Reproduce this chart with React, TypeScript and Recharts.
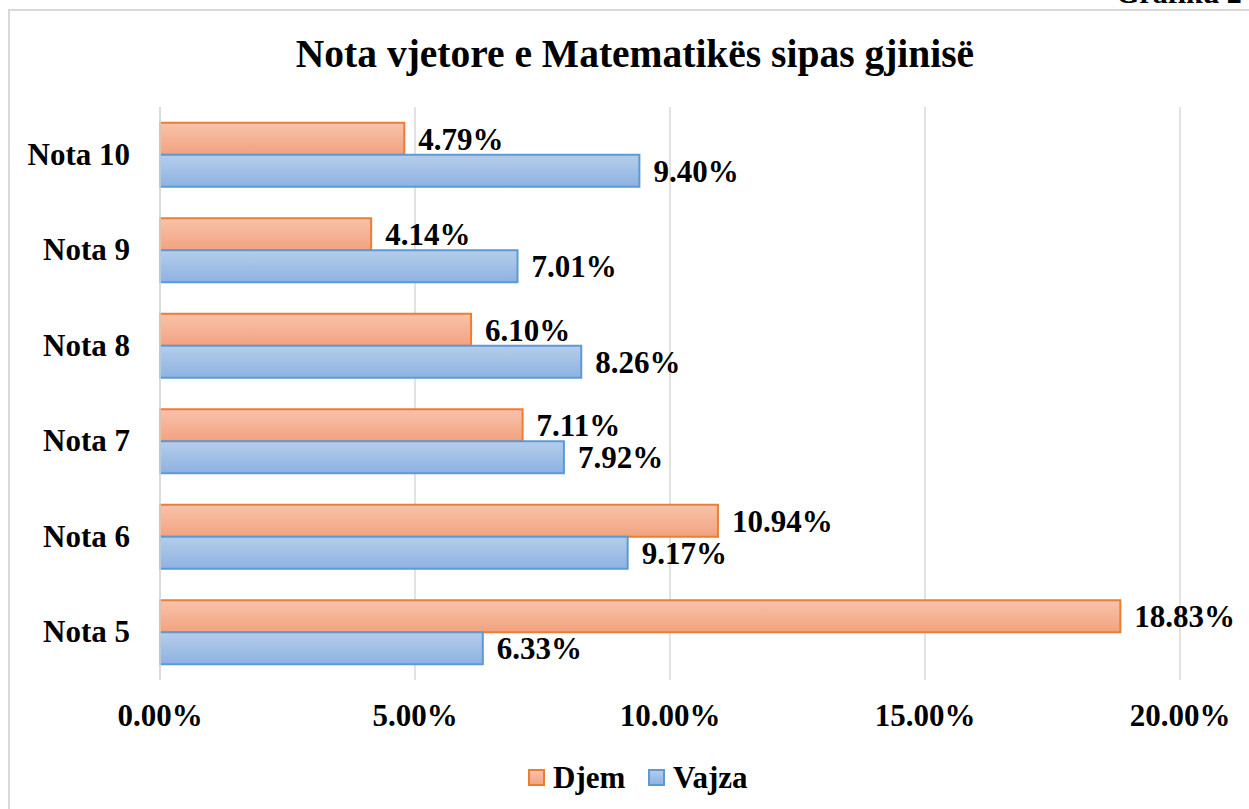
import { BarChart, Bar, XAxis, YAxis, CartesianGrid, LabelList } from "recharts";

const categories = ["Nota 10", "Nota 9", "Nota 8", "Nota 7", "Nota 6", "Nota 5"];
const djem = [4.79, 4.14, 6.1, 7.11, 10.94, 18.83];
const vajza = [9.4, 7.01, 8.26, 7.92, 9.17, 6.33];
const xTicks = [0, 5, 10, 15, 20];

const seriesNames = ["Djem", "Vajza"];
const title = "Nota vjetore e Matematikës sipas gjinisë";

const font = "'Liberation Serif', 'Times New Roman', serif";

const rows = categories.map((c, i) => ({ name: c, djem: djem[i], vajza: vajza[i] }));

const pct = (v: number) => `${Number(v).toFixed(2)}%`;

function YTick(props: any) {
  const { x, y, payload } = props;
  return (
    <text x={x - 22} y={y} dy={10} textAnchor="end" fontFamily={font} fontWeight="bold" fontSize={31} fill="#000">
      {payload.value}
    </text>
  );
}

function XTick(props: any) {
  const { x, y, payload } = props;
  return (
    <text x={x} y={y} dy={38} textAnchor="middle" fontFamily={font} fontWeight="bold" fontSize={31} fill="#000">
      {pct(payload.value)}
    </text>
  );
}

export default function App() {
  return (
    <div style={{ position: "absolute", left: 0, top: 0, width: 1249, height: 809, overflow: "hidden", background: "#fff" }}>
      <div
        style={{
          position: "absolute",
          left: 8,
          top: 9,
          width: 1300,
          height: 900,
          borderLeft: "2px solid #d9d9d9",
          borderTop: "2px solid #d9d9d9",
        }}
      />
      <div style={{ position: "absolute", left: 0, top: 0 }}>
        <BarChart
          width={1249}
          height={809}
          data={rows}
          layout="vertical"
          margin={{ top: 107, right: 69, bottom: 79, left: 0 }}
          barCategoryGap="16.5%"
          barGap={0}
        >
          <defs>
            <linearGradient id="gOrange" x1="0" y1="0" x2="0" y2="1">
              <stop offset="0%" stopColor="#f7c3ab" />
              <stop offset="100%" stopColor="#f2a27f" />
            </linearGradient>
            <linearGradient id="gBlue" x1="0" y1="0" x2="0" y2="1">
              <stop offset="0%" stopColor="#b6cdea" />
              <stop offset="100%" stopColor="#8db2e2" />
            </linearGradient>
          </defs>
          <CartesianGrid horizontal={false} stroke="#d9d9d9" strokeWidth={1.5} />
          <XAxis
            type="number"
            domain={[0, 20]}
            ticks={xTicks}
            axisLine={false}
            tickLine={false}
            height={50}
            tick={<XTick />}
            interval={0}
          />
          <YAxis
            type="category"
            dataKey="name"
            width={160}
            axisLine={{ stroke: "#d9d9d9", strokeWidth: 1.5 }}
            tickLine={false}
            tick={<YTick />}
            interval={0}
          />
          <Bar dataKey="djem" name={seriesNames[0]} fill="url(#gOrange)" stroke="#ed7d31" strokeWidth={2} isAnimationActive={false}>
            <LabelList
              dataKey="djem"
              position="right"
              offset={14}
              formatter={(v: any) => pct(v)}
              style={{ fontFamily: font, fontWeight: "bold", fontSize: 31, fill: "#000" }}
            />
          </Bar>
          <Bar dataKey="vajza" name={seriesNames[1]} fill="url(#gBlue)" stroke="#5b9bd5" strokeWidth={2} isAnimationActive={false}>
            <LabelList
              dataKey="vajza"
              position="right"
              offset={14}
              formatter={(v: any) => pct(v)}
              style={{ fontFamily: font, fontWeight: "bold", fontSize: 31, fill: "#000" }}
            />
          </Bar>
        </BarChart>
      </div>
      <svg width={1249} height={809} style={{ position: "absolute", left: 0, top: 0, pointerEvents: "none" }}>
        <text x={1116} y={3} fontFamily={font} fontWeight="bold" fontSize={30} fill="#000">
          Grafiku 2
        </text>
        <text x={635} y={67} textAnchor="middle" fontFamily={font} fontWeight="bold" fontSize={39.5} fill="#000">
          {title}
        </text>
        <rect x={529} y={770} width={15} height={15} fill="url(#lgOrange)" stroke="#ed7d31" strokeWidth={2} />
        <text x={553} y={788} fontFamily={font} fontWeight="bold" fontSize={31} fill="#000">
          {seriesNames[0]}
        </text>
        <rect x={649} y={770} width={15} height={15} fill="url(#lgBlue)" stroke="#5b9bd5" strokeWidth={2} />
        <text x={673} y={788} fontFamily={font} fontWeight="bold" fontSize={31} fill="#000">
          {seriesNames[1]}
        </text>
        <defs>
          <linearGradient id="lgOrange" x1="0" y1="0" x2="0" y2="1">
            <stop offset="0%" stopColor="#f7c3ab" />
            <stop offset="100%" stopColor="#f2a27f" />
          </linearGradient>
          <linearGradient id="lgBlue" x1="0" y1="0" x2="0" y2="1">
            <stop offset="0%" stopColor="#b6cdea" />
            <stop offset="100%" stopColor="#8db2e2" />
          </linearGradient>
        </defs>
      </svg>
    </div>
  );
}
